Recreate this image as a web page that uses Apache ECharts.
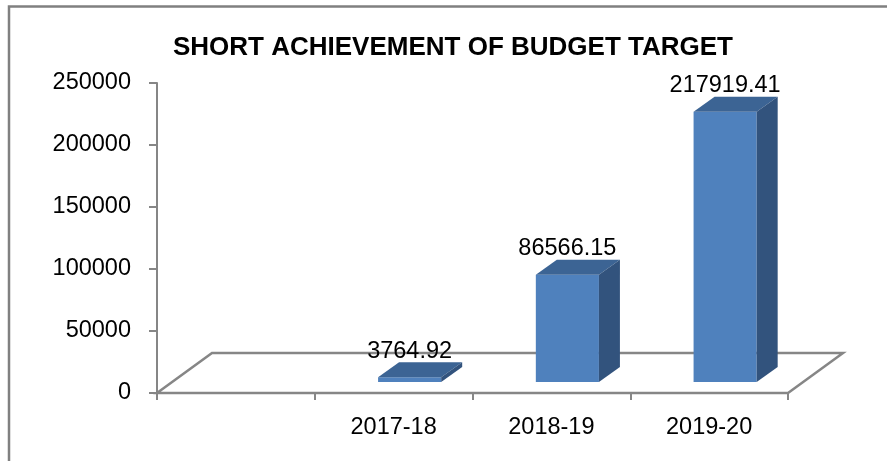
<!DOCTYPE html>
<html>
<head>
<meta charset="utf-8">
<script src="https://cdn.jsdelivr.net/npm/echarts@6/dist/echarts.min.js"></script>
<style>
  html, body { margin: 0; padding: 0; background: #fff; }
  #bars { width: 887px; height: 461px; }
</style>
</head>
<body>
<div id="bars"></div>
<script>
// first slot of the category axis is blank in the original sheet
const categories = ['', '2017-18', '2018-19', '2019-20']
const shortfall = [null, 3764.92, 86566.15, 217919.41]
const yTicks = [0, 50000, 100000, 150000, 200000, 250000]

const FONT = 'Liberation Sans, Arial, sans-serif'
const GREY = '#868686'
// 3d look: bars sit a bit back on the floor, floor has its own depth
const FLOOR_DX = 55
const FLOOR_DY = -40
const BAR_SHIFT_X = 16
const BAR_SHIFT_Y = -11
const BAR_DX = 21
const BAR_DY = -15

function renderFloor (params) {
  const r = params.coordSys
  const yb = r.y + r.height
  return {
    type: 'polygon',
    shape: {
      points: [
        [r.x, yb],
        [r.x + r.width, yb],
        [r.x + r.width + FLOOR_DX, yb + FLOOR_DY],
        [r.x + FLOOR_DX, yb + FLOOR_DY]
      ]
    },
    style: { fill: 'none', stroke: GREY, lineWidth: 2.5 }
  }
}

function renderBar (params, api) {
  const cat = api.value(0)
  const val = api.value(1)
  const base = api.coord([cat, 0])
  const top = api.coord([cat, val])
  const w = api.size([1, 0])[0] * 0.4
  const h = base[1] - top[1]
  const x0 = base[0] + BAR_SHIFT_X - w / 2
  const x1 = x0 + w
  const yb = base[1] + BAR_SHIFT_Y
  const yt = yb - h
  return {
    type: 'group',
    children: [
      {
        type: 'polygon',
        shape: { points: [[x0, yb], [x1, yb], [x1, yt], [x0, yt]] },
        style: { fill: '#4F81BD' }
      },
      {
        type: 'polygon',
        shape: { points: [[x0, yt], [x1, yt], [x1 + BAR_DX, yt + BAR_DY], [x0 + BAR_DX, yt + BAR_DY]] },
        style: { fill: '#3C6494' }
      },
      {
        type: 'polygon',
        shape: { points: [[x1, yb], [x1 + BAR_DX, yb + BAR_DY], [x1 + BAR_DX, yt + BAR_DY], [x1, yt]] },
        style: { fill: '#32537D' }
      },
      {
        type: 'text',
        x: (x0 + x1) / 2,
        y: yt + BAR_DY + 1,
        z2: 10,
        style: {
          text: String(val),
          fill: '#000',
          fontSize: 23.5,
          fontFamily: FONT,
          align: 'center',
          verticalAlign: 'bottom'
        }
      }
    ]
  }
}

const barData = []
shortfall.forEach((v, i) => {
  if (v != null) barData.push([i, v])
})

const option = {
  animation: false,
  backgroundColor: '#fff',
  title: {
    text: 'SHORT ACHIEVEMENT OF BUDGET TARGET',
    left: 173,
    top: 35,
    padding: 0,
    textStyle: {
      color: '#000',
      fontSize: 26,
      fontWeight: 'bold',
      fontFamily: FONT
    }
  },
  graphic: [{
    type: 'rect',
    shape: { x: 9, y: 6.5, width: 900, height: 500 },
    style: { fill: 'none', stroke: '#808080', lineWidth: 2.5 },
    silent: true
  }],
  grid: {
    left: 157,
    right: 99,
    top: 83,
    bottom: 68
  },
  xAxis: {
    type: 'category',
    data: categories,
    axisLine: { show: true, lineStyle: { color: GREY, width: 2 } },
    axisTick: { show: true, length: 7, lineStyle: { color: GREY, width: 2 } },
    axisLabel: {
      color: '#000',
      fontSize: 23.5,
      fontFamily: FONT,
      margin: 23
    },
    splitLine: { show: false }
  },
  yAxis: {
    type: 'value',
    min: yTicks[0],
    max: yTicks[yTicks.length - 1],
    interval: yTicks[1] - yTicks[0],
    axisLine: { show: true, lineStyle: { color: GREY, width: 2 } },
    axisTick: { show: true, length: 8, lineStyle: { color: GREY, width: 2 } },
    axisLabel: {
      color: '#000',
      fontSize: 23.5,
      fontFamily: FONT,
      margin: 26,
      formatter: (v) => String(v)
    },
    splitLine: { show: false }
  },
  series: [
    {
      name: 'floor',
      type: 'custom',
      renderItem: renderFloor,
      data: [[0, 0]],
      z: 1,
      silent: true
    },
    {
      name: 'Short achievement',
      type: 'custom',
      renderItem: renderBar,
      encode: { x: 0, y: 1 },
      data: barData,
      z: 3
    }
  ]
}

const myChart = echarts.init(document.getElementById('bars'))
myChart.setOption(option)
window.addEventListener('resize', () => {
  myChart.resize()
})
</script>
</body>
</html>
